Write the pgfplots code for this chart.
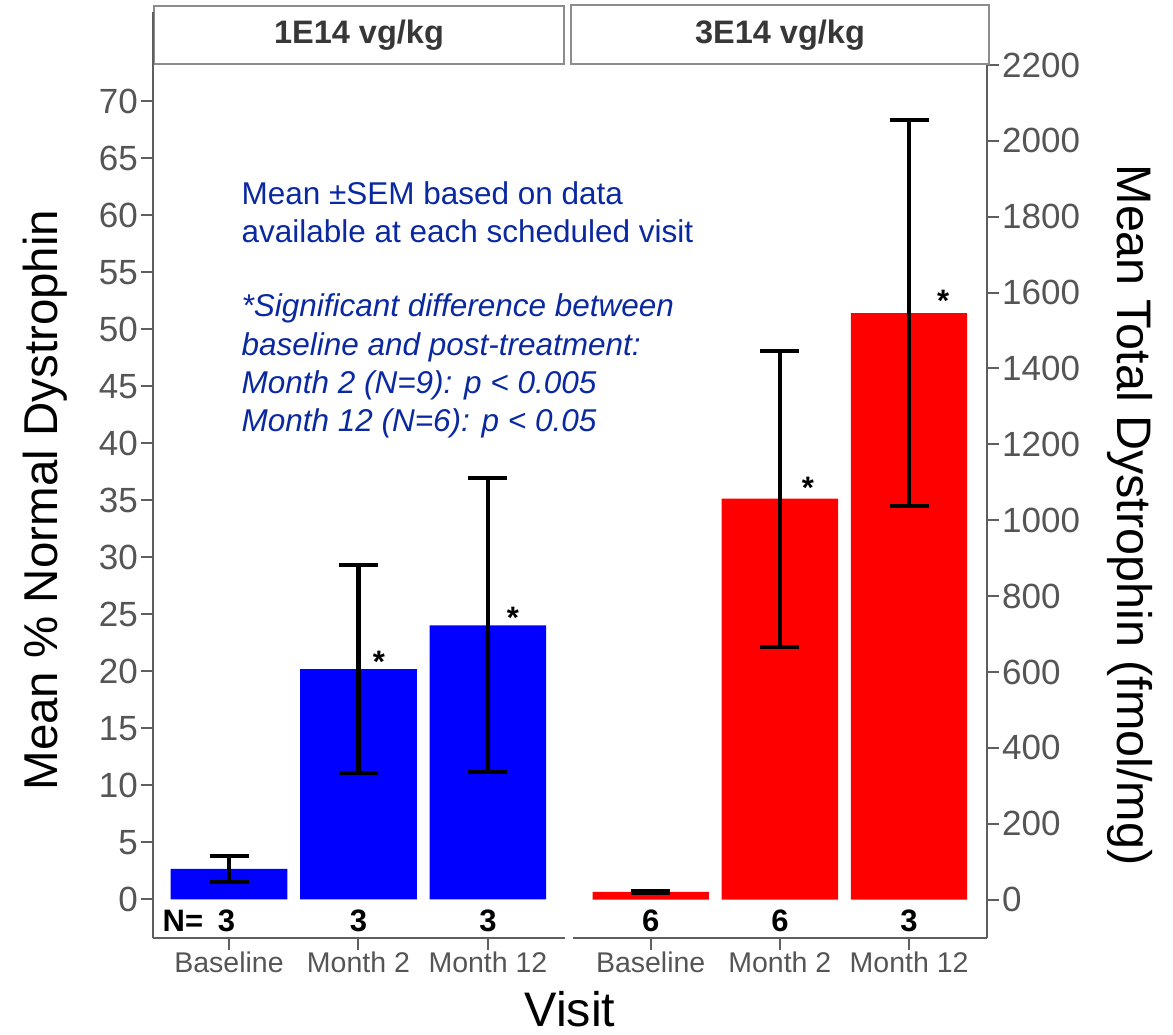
\documentclass[border=0pt]{standalone}
\usepackage{fontspec}
\setmainfont{Liberation Sans}
\usepackage{pgfplots}
\pgfplotsset{compat=1.18}
\definecolor{axisgray}{RGB}{95,95,95}
\definecolor{ticktext}{RGB}{85,85,85}
\definecolor{stripline}{RGB}{140,140,140}
\definecolor{striptext}{RGB}{55,55,55}
\definecolor{annot}{RGB}{10,40,160}
\definecolor{barblue}{RGB}{0,0,255}
\definecolor{barred}{RGB}{255,0,0}
\newcommand{\fs}[1]{\fontsize{#1}{#1}\selectfont}

\pgfplotsset{
  panel/.style={
    scale only axis,
    height=873pt,
    axis x line*=bottom,
    tick align=outside,
    major tick length=12pt,
    axis line style={draw=axisgray, line width=2pt},
    tick style={draw=axisgray, line width=2pt},
    xtick={0,1,2},
    xticklabels={Baseline,Month 2,Month 12},
    xticklabel style={font=\fs{28.5}, text=ticktext, inner sep=2pt},
    yticklabel style={font=\fs{35}, text=ticktext, inner sep=3pt},
    /pgf/number format/assume math mode=true,
    /pgf/number format/set thousands separator={},
    scaled y ticks=false,
    clip=false,
    ybar, bar width=0.9,
  },
  errs/.style={
    error bars/.cd, y dir=both, y explicit,
    error bar style={draw=black, line width=4.5pt},
    error mark options={draw=black, line width=4pt, mark size=19.5pt, rotate=90},
  },
}

\begin{document}
\begin{tikzpicture}
% ---------------- left panel: 1E14 vg/kg ----------------
\begin{axis}[panel,
  at={(153pt,97pt)}, anchor=south west,
  width=412pt,
  xmin=-0.587, xmax=2.595,
  ymin=-3.377, ymax=73.2,
  axis y line*=left,
  ytick={0,5,...,70},
]
\addplot[fill=barblue, draw=none, errs] coordinates {
  (0,2.68)  +- (0,1.17)
  (1,20.2)  +- (0,9.1)
  (2,24.05) +- (0,12.9)
};
\node[draw=stripline, line width=1.5pt, minimum width=410pt, minimum height=58pt,
      anchor=south, inner sep=0pt, font=\bfseries\fs{32.5}, text=striptext]
      at (axis description cs:0.5,1) {1E14 vg/kg};
\draw[axisgray, line width=2pt] (axis description cs:0,1) -- ++(0pt,53pt);
% N labels
\node[anchor=base west, font=\bfseries\fs{31}] at (axis cs:-0.54,-2.85) {N=};
\node[anchor=base, font=\bfseries\fs{31}] at (axis cs:-0.02,-2.85) {3};
\node[anchor=base, font=\bfseries\fs{31}] at (axis cs:1,-2.85) {3};
\node[anchor=base, font=\bfseries\fs{31}] at (axis cs:2,-2.85) {3};
% asterisks
\node[anchor=base, font=\bfseries\fs{31}] at (axis cs:1.157,19.9) {*};
\node[anchor=base, font=\bfseries\fs{31}] at (axis cs:2.193,23.8) {*};
% annotation
\node[anchor=base west, font=\fs{31.5}, text=annot] at (axis cs:0.0695,60.92) {Mean ±SEM based on data};
\node[anchor=base west, font=\fs{31.5}, text=annot] at (axis cs:0.0695,57.59) {available at each scheduled visit};
\node[anchor=base west, font=\itshape\fs{31.5}, text=annot] at (axis cs:0.0695,51.10) {*Significant difference between};
\node[anchor=base west, font=\itshape\fs{31.5}, text=annot] at (axis cs:0.0695,47.76) {baseline and post-treatment:};
\node[anchor=base west, font=\itshape\fs{31.5}, text=annot] at (axis cs:0.0695,44.40) {Month 2 (N=9): p < 0.005};
\node[anchor=base west, font=\itshape\fs{31.5}, text=annot] at (axis cs:0.0695,41.04) {Month 12 (N=6): p < 0.05};
% axis labels
\node[rotate=90, anchor=base, font=\fs{47.5}] at (axis description cs:-0.2306,0.5017) {Mean \% Normal Dystrophin};
\node[anchor=base, font=\fs{48.5}] at (axis description cs:1.012,-0.101) {Visit};
\end{axis}

% ---------------- right panel: 3E14 vg/kg ----------------
\begin{axis}[panel,
  at={(573pt,97pt)}, anchor=south west,
  width=414pt,
  xmin=-0.601, xmax=2.603,
  ymin=-101.3, ymax=2200,
  axis y line*=right,
  ytick={0,200,...,2200},
]
\addplot[fill=barred, draw=none, errs] coordinates {
  (0,20.5) +- (0,3)
  (1,1057) +- (0,390)
  (2,1546) +- (0,508)
};
\node[draw=stripline, line width=1.5pt, minimum width=418pt, minimum height=59pt,
      anchor=south, inner sep=0pt, font=\bfseries\fs{32.5}, text=striptext]
      at (axis description cs:0.5,1) {3E14 vg/kg};
% N labels
\node[anchor=base, font=\bfseries\fs{31}] at (axis cs:0,-85) {6};
\node[anchor=base, font=\bfseries\fs{31}] at (axis cs:1,-85) {6};
\node[anchor=base, font=\bfseries\fs{31}] at (axis cs:2,-85) {3};
% asterisks
\node[anchor=base, font=\bfseries\fs{31}] at (axis cs:1.217,1056) {*};
\node[anchor=base, font=\bfseries\fs{31}] at (axis cs:2.263,1549) {*};
% right axis label
\node[rotate=-90, anchor=base, font=\fs{48.5}] at (axis description cs:1.314,0.4845) {Mean Total Dystrophin (fmol/mg)};
\end{axis}

\pgfresetboundingbox
\useasboundingbox (0pt,0pt) rectangle (1173pt,1035pt);
\end{tikzpicture}
\end{document}
